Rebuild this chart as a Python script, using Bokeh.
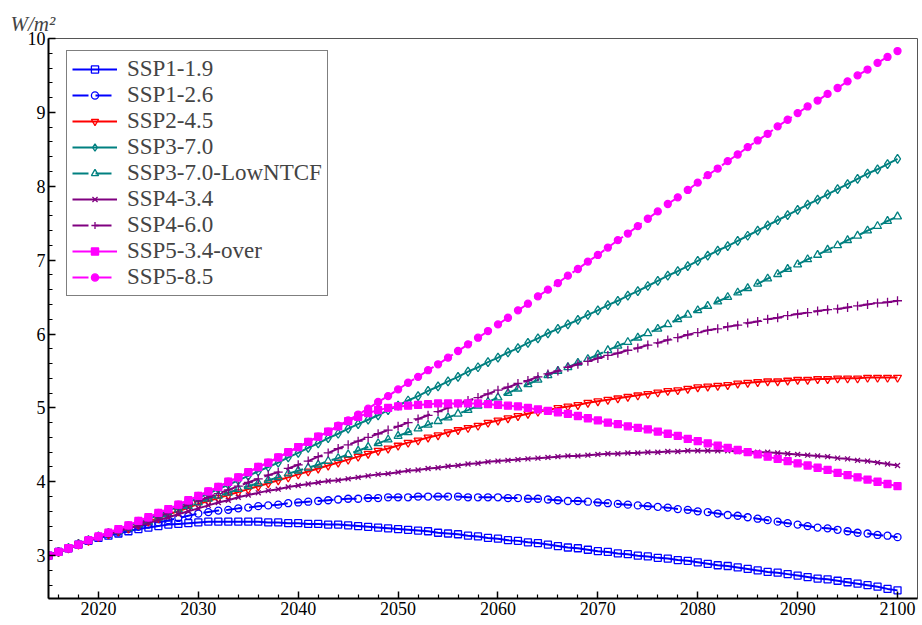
from bokeh.plotting import figure
from bokeh.models import FixedTicker, Legend, LegendItem, Range1d
from bokeh.embed import file_html
from bokeh.resources import INLINE

years = list(range(2015, 2101))

ssp119 = [3.00, 3.05, 3.10, 3.15, 3.20, 3.24,
          3.27, 3.30, 3.33, 3.36, 3.38,
          3.40, 3.42, 3.43, 3.44, 3.45,
          3.46, 3.46, 3.46, 3.46, 3.46,
          3.46, 3.45, 3.45, 3.44, 3.44,
          3.43, 3.43, 3.42, 3.42, 3.41,
          3.40, 3.39, 3.38, 3.37, 3.36,
          3.35, 3.34, 3.33, 3.31, 3.30,
          3.29, 3.27, 3.26, 3.24, 3.23,
          3.21, 3.20, 3.18, 3.17, 3.15,
          3.13, 3.11, 3.10, 3.08, 3.06,
          3.05, 3.03, 3.02, 3.00, 2.99,
          2.97, 2.96, 2.94, 2.93, 2.91,
          2.89, 2.87, 2.86, 2.84, 2.82,
          2.80, 2.78, 2.77, 2.75, 2.73,
          2.71, 2.69, 2.68, 2.66, 2.64,
          2.62, 2.60, 2.58, 2.55, 2.53]

ssp126 = [3.00, 3.05, 3.10, 3.15, 3.20, 3.25,
          3.29, 3.32, 3.36, 3.39, 3.42,
          3.45, 3.48, 3.51, 3.54, 3.57,
          3.59, 3.61, 3.62, 3.64, 3.65,
          3.67, 3.68, 3.69, 3.71, 3.72,
          3.73, 3.74, 3.75, 3.76, 3.77,
          3.77, 3.78, 3.78, 3.79, 3.79,
          3.79, 3.80, 3.80, 3.80, 3.80,
          3.80, 3.79, 3.79, 3.79, 3.79,
          3.78, 3.78, 3.77, 3.77, 3.76,
          3.75, 3.74, 3.74, 3.73, 3.72,
          3.71, 3.70, 3.69, 3.68, 3.67,
          3.66, 3.65, 3.63, 3.62, 3.60,
          3.59, 3.57, 3.55, 3.54, 3.52,
          3.50, 3.48, 3.46, 3.44, 3.42,
          3.40, 3.38, 3.37, 3.35, 3.33,
          3.31, 3.30, 3.28, 3.27, 3.25]

ssp245 = [3.00, 3.05, 3.10, 3.15, 3.20, 3.25,
          3.29, 3.33, 3.37, 3.42, 3.46,
          3.51, 3.56, 3.60, 3.65, 3.70,
          3.74, 3.78, 3.82, 3.86, 3.90,
          3.94, 3.98, 4.02, 4.06, 4.10,
          4.14, 4.18, 4.22, 4.26, 4.30,
          4.34, 4.38, 4.42, 4.45, 4.49,
          4.53, 4.56, 4.60, 4.63, 4.67,
          4.70, 4.73, 4.76, 4.80, 4.83,
          4.86, 4.89, 4.92, 4.95, 4.97,
          5.00, 5.02, 5.04, 5.07, 5.09,
          5.11, 5.13, 5.15, 5.17, 5.19,
          5.21, 5.23, 5.24, 5.26, 5.28,
          5.29, 5.30, 5.31, 5.33, 5.34,
          5.35, 5.36, 5.36, 5.37, 5.38,
          5.38, 5.39, 5.39, 5.40, 5.40,
          5.40, 5.41, 5.41, 5.41, 5.41]

ssp370 = [3.00, 3.05, 3.10, 3.16, 3.21, 3.26,
          3.31, 3.35, 3.40, 3.45, 3.50,
          3.55, 3.61, 3.66, 3.72, 3.78,
          3.84, 3.90, 3.96, 4.02, 4.08,
          4.14, 4.20, 4.26, 4.33, 4.39,
          4.46, 4.52, 4.59, 4.65, 4.72,
          4.78, 4.84, 4.90, 4.97, 5.03,
          5.10, 5.16, 5.23, 5.29, 5.36,
          5.42, 5.49, 5.55, 5.62, 5.68,
          5.75, 5.81, 5.88, 5.94, 6.01,
          6.07, 6.13, 6.19, 6.26, 6.32,
          6.39, 6.45, 6.52, 6.58, 6.65,
          6.72, 6.79, 6.85, 6.92, 6.99,
          7.06, 7.13, 7.19, 7.26, 7.33,
          7.40, 7.47, 7.54, 7.61, 7.68,
          7.75, 7.82, 7.89, 7.96, 8.03,
          8.10, 8.17, 8.23, 8.30, 8.37]

ssp370_low = [3.00, 3.05, 3.10, 3.15, 3.20, 3.25,
              3.29, 3.33, 3.37, 3.42, 3.46,
              3.51, 3.56, 3.62, 3.67, 3.72,
              3.77, 3.81, 3.85, 3.90, 3.94,
              3.98, 4.02, 4.06, 4.11, 4.15,
              4.19, 4.23, 4.28, 4.32, 4.37,
              4.42, 4.47, 4.52, 4.57, 4.62,
              4.67, 4.72, 4.77, 4.82, 4.87,
              4.92, 4.97, 5.03, 5.08, 5.14,
              5.20, 5.26, 5.32, 5.38, 5.44,
              5.50, 5.55, 5.61, 5.66, 5.72,
              5.78, 5.84, 5.89, 5.95, 6.01,
              6.07, 6.13, 6.20, 6.26, 6.32,
              6.38, 6.44, 6.50, 6.56, 6.62,
              6.68, 6.75, 6.81, 6.88, 6.94,
              7.01, 7.07, 7.14, 7.20, 7.27,
              7.33, 7.40, 7.46, 7.53, 7.59]

ssp434 = [3.00, 3.05, 3.10, 3.15, 3.20, 3.25,
          3.29, 3.33, 3.37, 3.40, 3.44,
          3.48, 3.52, 3.56, 3.60, 3.64,
          3.68, 3.72, 3.75, 3.79, 3.82,
          3.85, 3.88, 3.90, 3.93, 3.95,
          3.97, 3.99, 4.01, 4.02, 4.04,
          4.06, 4.08, 4.10, 4.11, 4.13,
          4.15, 4.16, 4.18, 4.19, 4.21,
          4.22, 4.24, 4.25, 4.27, 4.28,
          4.29, 4.30, 4.31, 4.32, 4.33,
          4.34, 4.35, 4.35, 4.36, 4.37,
          4.38, 4.38, 4.39, 4.39, 4.40,
          4.40, 4.41, 4.41, 4.42, 4.42,
          4.42, 4.42, 4.42, 4.41, 4.41,
          4.40, 4.40, 4.39, 4.38, 4.37,
          4.36, 4.35, 4.34, 4.32, 4.31,
          4.29, 4.28, 4.26, 4.24, 4.22]

ssp460 = [3.00, 3.05, 3.10, 3.16, 3.21, 3.26,
          3.30, 3.34, 3.39, 3.43, 3.48,
          3.53, 3.58, 3.64, 3.69, 3.74,
          3.79, 3.84, 3.89, 3.94, 3.99,
          4.04, 4.09, 4.13, 4.18, 4.23,
          4.28, 4.34, 4.39, 4.45, 4.50,
          4.55, 4.60, 4.65, 4.70, 4.75,
          4.80, 4.85, 4.90, 4.95, 5.00,
          5.05, 5.10, 5.14, 5.19, 5.24,
          5.28, 5.33, 5.37, 5.42, 5.46,
          5.50, 5.55, 5.59, 5.63, 5.67,
          5.71, 5.74, 5.78, 5.81, 5.85,
          5.88, 5.92, 5.95, 5.99, 6.02,
          6.05, 6.07, 6.10, 6.12, 6.15,
          6.17, 6.20, 6.22, 6.25, 6.27,
          6.29, 6.31, 6.33, 6.34, 6.36,
          6.38, 6.40, 6.42, 6.43, 6.45]

ssp534_over = [3.00, 3.05, 3.10, 3.15, 3.21, 3.26,
               3.31, 3.36, 3.41, 3.47, 3.52,
               3.58, 3.63, 3.69, 3.75, 3.81,
               3.87, 3.93, 4.00, 4.06, 4.13,
               4.20, 4.26, 4.33, 4.40, 4.47,
               4.54, 4.61, 4.68, 4.75, 4.82,
               4.88, 4.93, 4.97, 5.00, 5.02,
               5.03, 5.04, 5.05, 5.06, 5.06,
               5.06, 5.06, 5.06, 5.05, 5.04,
               5.03, 5.02, 5.00, 4.98, 4.96,
               4.94, 4.92, 4.89, 4.86, 4.83,
               4.80, 4.78, 4.75, 4.73, 4.71,
               4.68, 4.65, 4.62, 4.58, 4.55,
               4.52, 4.49, 4.46, 4.43, 4.40,
               4.37, 4.34, 4.31, 4.28, 4.25,
               4.22, 4.19, 4.16, 4.12, 4.09,
               4.06, 4.03, 4.00, 3.97, 3.94]

ssp585 = [3.00, 3.05, 3.10, 3.15, 3.21, 3.26,
          3.31, 3.36, 3.41, 3.47, 3.52,
          3.58, 3.63, 3.69, 3.75, 3.81,
          3.87, 3.93, 4.00, 4.06, 4.13,
          4.20, 4.26, 4.33, 4.40, 4.47,
          4.54, 4.61, 4.68, 4.76, 4.83,
          4.91, 4.99, 5.08, 5.16, 5.25,
          5.34, 5.42, 5.51, 5.59, 5.68,
          5.77, 5.86, 5.95, 6.04, 6.13,
          6.22, 6.32, 6.41, 6.51, 6.60,
          6.69, 6.79, 6.88, 6.98, 7.07,
          7.17, 7.27, 7.36, 7.46, 7.56,
          7.66, 7.76, 7.85, 7.95, 8.05,
          8.15, 8.24, 8.34, 8.43, 8.53,
          8.62, 8.71, 8.81, 8.90, 8.99,
          9.08, 9.16, 9.25, 9.33, 9.42,
          9.50, 9.58, 9.67, 9.75, 9.83]

names = ["SSP1-1.9", "SSP1-2.6", "SSP2-4.5", "SSP3-7.0", "SSP3-7.0-LowNTCF",
         "SSP4-3.4", "SSP4-6.0", "SSP5-3.4-over", "SSP5-8.5"]
series = [ssp119, ssp126, ssp245, ssp370, ssp370_low, ssp434, ssp460, ssp534_over, ssp585]

x_tick_values = [2020, 2030, 2040, 2050, 2060, 2070, 2080, 2090, 2100]
x_minor_values = [yr for yr in range(2016, 2102, 2) if yr % 10 != 0]
y_tick_values = [3, 4, 5, 6, 7, 8, 9, 10]
y_minor_values = [2.6, 2.8, 3.2, 3.4, 3.6, 3.8, 4.2, 4.4, 4.6, 4.8, 5.2, 5.4, 5.6, 5.8,
                  6.2, 6.4, 6.6, 6.8, 7.2, 7.4, 7.6, 7.8, 8.2, 8.4, 8.6, 8.8,
                  9.2, 9.4, 9.6, 9.8]

styles = [
    dict(color="#0000ff", marker="square", size=7, fill=None, dash="solid"),
    dict(color="#0000ff", marker="circle", size=7, fill=None, dash="16 7"),
    dict(color="#ff0000", marker="inverted_triangle", size=8, fill=None, dash="solid"),
    dict(color="#008080", marker="diamond", size=9, fill=None, dash="solid"),
    dict(color="#008080", marker="triangle", size=8, fill=None, dash="16 7"),
    dict(color="#800080", marker="x", size=7, fill=None, dash="solid"),
    dict(color="#800080", marker="cross", size=9, fill=None, dash="16 7"),
    dict(color="#ff00ff", marker="square", size=7, fill="#ff00ff", dash="solid"),
    dict(color="#ff00ff", marker="circle", size=7, fill="#ff00ff", dash="16 7"),
]

FONT = "Liberation Serif"

p = figure(width=920, height=621, output_backend="svg", toolbar_location=None,
           x_range=Range1d(2015, 2102), y_range=Range1d(2.42, 10),
           min_border_left=48, min_border_right=3, min_border_top=38, min_border_bottom=23)

p.grid.visible = False
p.outline_line_color = "#555555"
p.outline_line_width = 1
p.background_fill_color = "white"
p.border_fill_color = "white"

p.title.text = "W/m\u00b2"
p.title.text_font = FONT
p.title.text_font_style = "italic"
p.title.text_font_size = "21px"
p.title.align = "left"
p.title.offset = -38
p.title.standoff = 6

p.xaxis.ticker = FixedTicker(ticks=x_tick_values, minor_ticks=x_minor_values)
p.yaxis.ticker = FixedTicker(ticks=y_tick_values, minor_ticks=y_minor_values)
for ax in (p.xaxis[0], p.yaxis[0]):
    ax.major_tick_in = 7
    ax.major_tick_out = 0
    ax.minor_tick_in = 4
    ax.minor_tick_out = 0
    ax.axis_line_width = 2
    ax.axis_line_color = "black"
    ax.major_tick_line_width = 1.5
    ax.minor_tick_line_width = 1.2
    ax.major_label_text_font = FONT
    ax.major_label_text_font_size = "18px"
    ax.major_label_text_color = "black"
    ax.major_label_standoff = 3

items = []
for name, vals, st in zip(names, series, styles):
    rl = p.line(years, vals, line_color=st["color"], line_width=2, line_dash=st["dash"])
    rs = p.scatter(years, vals, marker=st["marker"], size=st["size"],
                   line_color=st["color"], line_width=1.3,
                   fill_color=st["fill"])
    items.append(LegendItem(label=name, renderers=[rl, rs]))

legend = Legend(items=items, location=(18, 302), padding=5, spacing=0,
                glyph_width=45, glyph_height=18, label_height=18, label_standoff=10,
                label_text_font=FONT, label_text_font_size="23px",
                border_line_color="black", border_line_width=1,
                background_fill_color="white", background_fill_alpha=1.0)
p.add_layout(legend)

open("out.html", "w").write(file_html(p, INLINE))
